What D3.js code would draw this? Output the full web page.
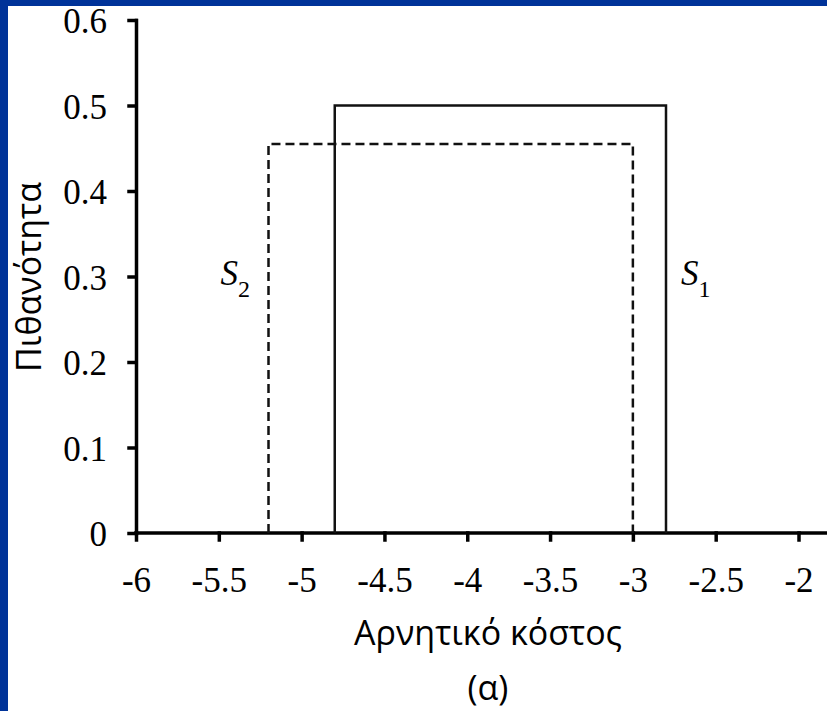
<!DOCTYPE html>
<meta charset="utf-8">
<style>
  body { margin: 0; }
</style>

<script src="https://d3js.org/d3.v7.min.js"></script>

<div id="dataviz"></div>

<script>

// values
var xTicks = [-6, -5.5, -5, -4.5, -4, -3.5, -3, -2.5, -2];
var yTicks = [0, 0.1, 0.2, 0.3, 0.4, 0.5, 0.6];
var seriesNames = ["S1", "S2"];
var s1Bounds = [-4.8, -2.8], s1Height = 0.5;
var s2Bounds = [-5.2, -3.0], s2Height = 0.455;
// where the S labels sit, in data units
var labelX = [-2.71, -5.49];
var labelY = [0.29, 0.29];

var W = 827, H = 711;
var margin = {top: 20, left: 136, bottom: 178, right: 28.5};

var svg = d3.select("#dataviz")
  .append("svg")
    .attr("width", W)
    .attr("height", H);

// slide frame
svg.append("rect").attr("width", W).attr("height", H).attr("fill", "#003399");
svg.append("rect").attr("x", 8).attr("y", 6).attr("width", W - 8).attr("height", H - 6).attr("fill", "#ffffff");

var x = d3.scaleLinear()
  .domain([-6, -2])
  .range([margin.left, W - margin.right]);

var y = d3.scaleLinear()
  .domain([0, 0.6])
  .range([H - margin.bottom, margin.top]);

var serif = "'Liberation Serif', 'Times New Roman', serif";
var sans = "'Open Sans', 'Noto Sans', sans-serif";

// x axis
var xAxis = svg.append("g")
  .attr("transform", "translate(0," + y(0) + ")")
  .call(d3.axisBottom(x).tickValues(xTicks).tickSize(7).tickSizeOuter(0).tickPadding(27)
    .tickFormat(function(d) { return d3.format("")(d).replace("−", "-"); }));
xAxis.select(".domain").attr("d", "M" + x(-6) + ",0H" + W);

// y axis
var yAxis = svg.append("g")
  .attr("transform", "translate(" + x(-6) + ",0)")
  .call(d3.axisLeft(y).tickValues(yTicks).tickSize(7).tickSizeOuter(0).tickPadding(22)
    .tickFormat(function(d) { return d === 0 ? "0" : d3.format(".1f")(d); }));

svg.selectAll(".domain, .tick line")
  .attr("stroke", "#000")
  .attr("stroke-width", 3.5)
  .attr("stroke-linecap", "square");

svg.selectAll(".tick text")
  .attr("fill", "#000")
  .style("font-family", serif)
  .style("font-size", "35px");
yAxis.selectAll(".tick text").attr("dy", "0.36em");

// the two uniform densities
var line = d3.line()
  .x(function(d) { return x(d[0]); })
  .y(function(d) { return y(d[1]); });

function boxPoints(b, h) {
  return [[b[0], 0], [b[0], h], [b[1], h], [b[1], 0]];
}

svg.append("path")
  .datum(boxPoints(s2Bounds, s2Height))
  .attr("d", line)
  .attr("fill", "none")
  .attr("stroke", "#111")
  .attr("stroke-width", 2.5)
  .attr("stroke-dasharray", "9,5");

svg.append("path")
  .datum(boxPoints(s1Bounds, s1Height))
  .attr("d", line)
  .attr("fill", "none")
  .attr("stroke", "#111")
  .attr("stroke-width", 2.5);

// S labels
seriesNames.forEach(function(name, i) {
  var t = svg.append("text")
    .attr("x", x(labelX[i]))
    .attr("y", y(labelY[i]))
    .style("font-family", serif)
    .style("font-size", "35px")
    .style("font-style", "italic")
    .attr("fill", "#000");
  t.append("tspan").text(name.charAt(0));
  t.append("tspan")
    .attr("dy", 12)
    .style("font-size", "24px")
    .style("font-style", "normal")
    .text(name.slice(1));
});

// axis titles
svg.append("text")
  .attr("x", 488)
  .attr("y", 645)
  .attr("text-anchor", "middle")
  .style("font-family", sans)
  .style("font-size", "34px")
  .text("Αρνητικό κόστος");

svg.append("text")
  .attr("x", 488)
  .attr("y", 700)
  .attr("text-anchor", "middle")
  .style("font-family", sans)
  .style("font-size", "34px")
  .text("(α)");

svg.append("text")
  .attr("transform", "translate(41,277) rotate(-90)")
  .attr("text-anchor", "middle")
  .style("font-family", sans)
  .style("font-size", "34px")
  .text("Πιθανότητα");

</script>
